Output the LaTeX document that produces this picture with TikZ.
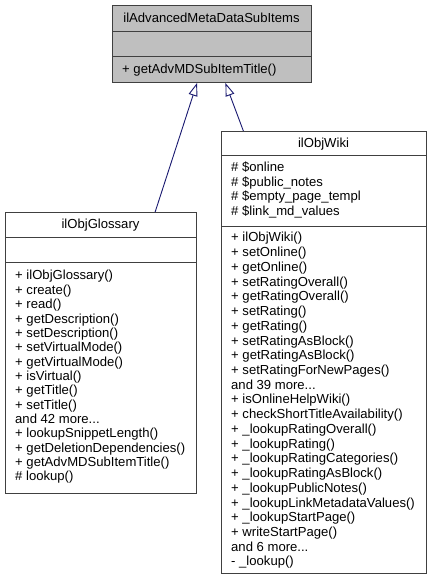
\documentclass[tikz,border=0pt]{standalone}
\usepackage{fontspec}
\setmainfont{Liberation Sans}
\usetikzlibrary{arrows.meta}
\definecolor{boxgray}{HTML}{404040}
\definecolor{basefill}{HTML}{BFBFBF}
\definecolor{edgeblue}{HTML}{191970}

\begin{document}
\begin{tikzpicture}[x = 1pt, y = -1pt,
  font = \fontsize{13.1}{15}\selectfont,
  classbox/.style = {draw = boxgray, line width = 1pt, inner sep = 0pt, anchor = north west},
  boxline/.style = {draw = boxgray, line width = 1pt},
  member/.style = {anchor = west, inner sep = 0pt, text height = 9.4pt, text depth = 1.5pt},
  title/.style = {inner sep = 0pt, text height = 9.4pt, text depth = 1.5pt},
  inherit/.style = {draw = edgeblue, line width = 0.9pt,
    -{Triangle[open, fill = white, length = 13pt, width = 9pt]}}]
\useasboundingbox (0, 0) rectangle (431, 580);
%\draw[very thin, color = gray](0, 0) grid (431, 580);

% base class
\node (advmd) at (112, 5) [classbox, fill = basefill, minimum width = 199pt, minimum height = 77pt] {};
\draw[boxline] (112, 32) -- (311, 32);
\draw[boxline] (112, 57) -- (311, 57);
\node (advmdTitle) at (211.5, 18.5) [title] {ilAdvancedMetaDataSubItems};
\node (advmd1) at (122, 69.5) [member] {+ getAdvMDSubItemTitle()};

% ilObjGlossary
\node (glossary) at (5, 212) [classbox, fill = white, minimum width = 191pt, minimum height = 281pt] {};
\draw[boxline] (5, 237) -- (196, 237);
\draw[boxline] (5, 262) -- (196, 262);
\node (glossaryTitle) at (100.5, 224.5) [title] {ilObjGlossary};
\node (gloss1) at (15, 276) [member] {+ ilObjGlossary()};
\node (gloss2) at (15, 290.4) [member] {+ create()};
\node (gloss3) at (15, 304.7) [member] {+ read()};
\node (gloss4) at (15, 319.1) [member] {+ getDescription()};
\node (gloss5) at (15, 333.4) [member] {+ setDescription()};
\node (gloss6) at (15, 347.8) [member] {+ setVirtualMode()};
\node (gloss7) at (15, 362.2) [member] {+ getVirtualMode()};
\node (gloss8) at (15, 376.5) [member] {+ isVirtual()};
\node (gloss9) at (15, 390.9) [member] {+ getTitle()};
\node (gloss10) at (15, 405.2) [member] {+ setTitle()};
\node (gloss11) at (15, 419.6) [member] {and 42 more...};
\node (gloss12) at (15, 434) [member] {+ lookupSnippetLength()};
\node (gloss13) at (15, 448.3) [member] {+ getDeletionDependencies()};
\node (gloss14) at (15, 462.7) [member] {+ getAdvMDSubItemTitle()};
\node (gloss15) at (15, 477) [member] {\# lookup()};

% ilObjWiki
\node (wiki) at (221, 131) [classbox, fill = white, minimum width = 205pt, minimum height = 442pt] {};
\draw[boxline] (221, 156) -- (426, 156);
\draw[boxline] (221, 226) -- (426, 226);
\node (wikiTitle) at (323.5, 143.5) [title] {ilObjWiki};
\node (wikiAttr1) at (231, 168) [member] {\# \$online};
\node (wikiAttr2) at (231, 182.5) [member] {\# \$public\_notes};
\node (wikiAttr3) at (231, 197) [member] {\# \$empty\_page\_templ};
\node (wikiAttr4) at (231, 211.5) [member] {\# \$link\_md\_values};
\node (wiki1) at (231, 238) [member] {+ ilObjWiki()};
\node (wiki2) at (231, 252.7) [member] {+ setOnline()};
\node (wiki3) at (231, 267.5) [member] {+ getOnline()};
\node (wiki4) at (231, 282.2) [member] {+ setRatingOverall()};
\node (wiki5) at (231, 296.9) [member] {+ getRatingOverall()};
\node (wiki6) at (231, 311.7) [member] {+ setRating()};
\node (wiki7) at (231, 326.4) [member] {+ getRating()};
\node (wiki8) at (231, 341.1) [member] {+ setRatingAsBlock()};
\node (wiki9) at (231, 355.8) [member] {+ getRatingAsBlock()};
\node (wiki10) at (231, 370.6) [member] {+ setRatingForNewPages()};
\node (wiki11) at (231, 385.3) [member] {and 39 more...};
\node (wiki12) at (231, 400) [member] {+ isOnlineHelpWiki()};
\node (wiki13) at (231, 414.8) [member] {+ checkShortTitleAvailability()};
\node (wiki14) at (231, 429.5) [member] {+ \_lookupRatingOverall()};
\node (wiki15) at (231, 444.2) [member] {+ \_lookupRating()};
\node (wiki16) at (231, 459) [member] {+ \_lookupRatingCategories()};
\node (wiki17) at (231, 473.7) [member] {+ \_lookupRatingAsBlock()};
\node (wiki18) at (231, 488.4) [member] {+ \_lookupPublicNotes()};
\node (wiki19) at (231, 503.1) [member] {+ \_lookupLinkMetadataValues()};
\node (wiki20) at (231, 517.9) [member] {+ \_lookupStartPage()};
\node (wiki21) at (231, 532.6) [member] {+ writeStartPage()};
\node (wiki22) at (231, 547.3) [member] {and 6 more...};
\node (wiki23) at (231, 562) [member] {- \_lookup()};

% generalisation
\draw[inherit] (glossary.69.87) -- (advmd.249.36);
\draw[inherit] (wiki.110) -- (advmd.289.32);
\end{tikzpicture}
\end{document}
